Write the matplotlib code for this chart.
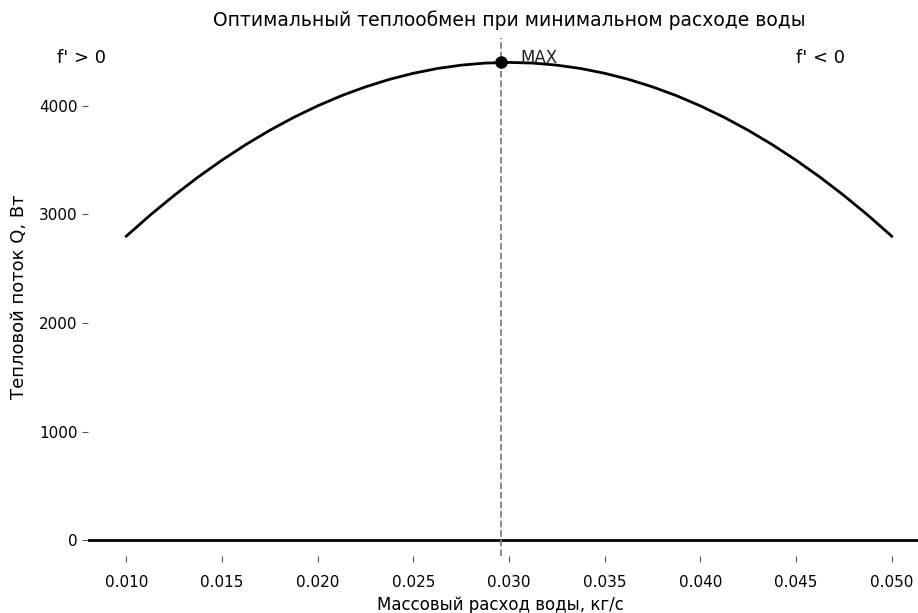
import numpy as np
import matplotlib
matplotlib.use('Agg')
import matplotlib.pyplot as plt

# mass flow of water, kg/s
flow = [0.010, 0.01125, 0.0125, 0.01375, 0.015, 0.01625, 0.0175, 0.01875,
        0.020, 0.02125, 0.0225, 0.02375, 0.025, 0.02625, 0.0275, 0.02875,
        0.030, 0.03125, 0.0325, 0.03375, 0.035, 0.03625, 0.0375, 0.03875,
        0.040, 0.04125, 0.0425, 0.04375, 0.045, 0.04625, 0.0475, 0.04875,
        0.050]
# heat flux Q, W
heat = [2800, 2994, 3175, 3344, 3500, 3644, 3775, 3894,
        4000, 4094, 4175, 4244, 4300, 4344, 4375, 4394,
        4400, 4394, 4375, 4344, 4300, 4244, 4175, 4094,
        4000, 3894, 3775, 3644, 3500, 3344, 3175, 2994,
        2800]
max_flow = 0.0296
max_heat = 4400

fig = plt.figure(figsize=(9.18, 6.13), dpi=100)
ax = fig.add_axes([88 / 918, 57 / 613, 842 / 918, 518 / 613])

ax.plot(flow, heat, color='black', linewidth=2)
ax.axhline(0, color='black', linewidth=2)
ax.axvline(max_flow, color='gray', linestyle='--', linewidth=1.3)
ax.plot(max_flow, max_heat, 'o', color='black', markersize=8)

ax.text(max_flow + 0.001, max_heat - 5, 'MAX', fontsize=12, va='baseline', color='#222222')
ax.text(0.0064, 4440, "f' > 0", fontsize=13, va='center')
ax.text(0.045, 4440, "f' < 0", fontsize=13, va='center')

ax.set_xlim(0.008, 0.052)
ax.set_ylim(-145, 4625)
ax.set_xticks([0.010, 0.015, 0.020, 0.025, 0.030, 0.035, 0.040, 0.045, 0.050])
ax.set_yticks([0, 1000, 2000, 3000, 4000])
ax.xaxis.set_major_formatter(matplotlib.ticker.FormatStrFormatter('%.3f'))
ax.tick_params(labelsize=11, length=4, width=0.8, color='#555555')
ax.tick_params(axis='x', pad=10)

for s in ax.spines.values():
    s.set_visible(False)

ax.set_title('Оптимальный теплообмен при минимальном расходе воды', fontsize=13.5, pad=9)
ax.set_xlabel('Массовый расход воды, кг/с', fontsize=12)
ax.set_ylabel('Тепловой поток Q, Вт', fontsize=13)
ax.xaxis.set_label_coords(0.49, -0.077)
ax.yaxis.set_label_coords(-0.071, 0.5)

fig.savefig('out.png', dpi=100)
